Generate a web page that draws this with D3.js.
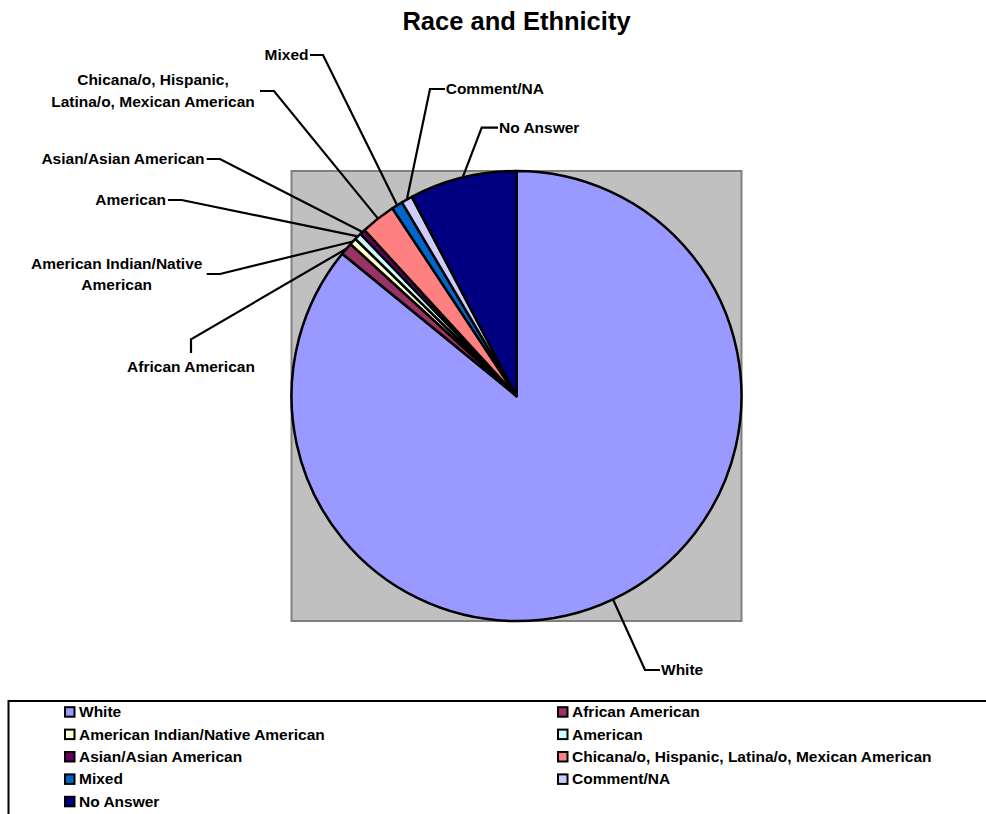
<!DOCTYPE html>
<html lang="en">
<head>
  <meta charset="UTF-8">
  <title>Race and Ethnicity</title>
  <script src="https://cdn.jsdelivr.net/npm/d3@7"></script>
</head>
<body style="margin:0; background-color:#FFFFFF;">
<script>
  // chart data
  const categories = ["White", "African American", "American Indian/Native American", "American",
    "Asian/Asian American", "Chicana/o, Hispanic, Latina/o, Mexican American", "Mixed", "Comment/NA", "No Answer"];
  const values = [85.9, 0.9, 0.5, 0.5, 0.4, 2.5, 0.8, 0.8, 7.7];
  const labelLines = [["White"], ["African American"], ["American Indian/Native", "American"], ["American"],
    ["Asian/Asian American"], ["Chicana/o, Hispanic,", "Latina/o, Mexican American"], ["Mixed"], ["Comment/NA"], ["No Answer"]];

  // styling / layout
  const colors = ["#9999FF", "#993366", "#FFFFCC", "#CCFFFF", "#660066", "#FF8080", "#0066CC", "#CCCCFF", "#000080"];
  const labelLayout = [
    {x: 661, y: 670, anchor: "start", from: [660, 670], elbow: [645, 670]},
    {x: 191, y: 366.7, anchor: "middle", from: [191, 353], elbow: [191, 339.3]},
    {x: 116.7, y: 263.3, anchor: "middle", from: [206.7, 274], elbow: [220, 274]},
    {x: 166, y: 200, anchor: "end", from: [168, 200], elbow: [181.7, 200]},
    {x: 204.5, y: 159, anchor: "end", from: [206.7, 159], elbow: [220, 159]},
    {x: 153, y: 80, anchor: "middle", from: [260, 91], elbow: [274, 91]},
    {x: 308.5, y: 55, anchor: "end", from: [310, 55], elbow: [323, 55]},
    {x: 445.7, y: 89, anchor: "start", from: [445, 89], elbow: [430, 89]},
    {x: 499, y: 127.7, anchor: "start", from: [498, 127.7], elbow: [481.7, 127.7]}
  ];

  const width = 986, height = 814;
  const cx = 516.5, cy = 396, r = 225;
  const font = "Arial, 'Liberation Sans', sans-serif";

  const svg = d3.select("body").append("svg")
    .attr("width", width)
    .attr("height", height)
    .style("display", "block")
    .style("font-family", font);

  svg.append("text")
    .attr("x", cx)
    .attr("y", 29.5)
    .attr("text-anchor", "middle")
    .style("font-size", "25.5px")
    .style("font-weight", "bold")
    .text("Race and Ethnicity");

  // plot area
  svg.append("rect")
    .attr("x", cx - r)
    .attr("y", cy - r)
    .attr("width", r * 2)
    .attr("height", r * 2)
    .attr("fill", "#C0C0C0")
    .attr("stroke", "#808080")
    .attr("stroke-width", 2);

  const data = categories.map((c, i) => ({name: c, value: values[i], i}));
  const pie = d3.pie().sort(null).value(d => d.value);
  const arcs = pie(data);
  const arc = d3.arc().innerRadius(0).outerRadius(r);
  const edgeArc = d3.arc().innerRadius(r).outerRadius(r);

  const g = svg.append("g").attr("transform", `translate(${cx},${cy})`);
  g.selectAll("path.slice")
    .data(arcs)
    .enter()
    .append("path")
    .attr("class", "slice")
    .attr("d", arc)
    .attr("fill", d => colors[d.data.i])
    .attr("stroke", "#000")
    .attr("stroke-width", 2.5)
    .attr("stroke-linejoin", "round");

  // leader lines + labels
  const line = d3.line();
  arcs.forEach((a, i) => {
    const lay = labelLayout[i];
    const e = edgeArc.centroid(a);
    svg.append("path")
      .attr("d", line([lay.from, lay.elbow, [cx + e[0], cy + e[1]]]))
      .attr("fill", "none")
      .attr("stroke", "#000")
      .attr("stroke-width", 2.2);

    const t = svg.append("text")
      .attr("text-anchor", lay.anchor)
      .style("font-size", "15.5px")
      .style("font-weight", "bold");
    labelLines[i].forEach((s, k) => {
      t.append("tspan")
        .attr("x", lay.x)
        .attr("y", lay.y + k * 21.7)
        .attr("dy", "0.35em")
        .text(s);
    });
  });

  // legend
  svg.append("rect")
    .attr("x", 8.5)
    .attr("y", 701)
    .attr("width", 1000)
    .attr("height", 200)
    .attr("fill", "#FFFFFF")
    .attr("stroke", "#000")
    .attr("stroke-width", 2);

  const colX = [65, 558];
  const rowY = d3.scaleLinear().domain([0, 1]).range([711.7, 734.1]);
  const leg = svg.selectAll("g.leg")
    .data(data)
    .enter()
    .append("g")
    .attr("class", "leg")
    .attr("transform", d => `translate(${colX[d.i % 2]},${rowY(Math.floor(d.i / 2))})`);
  leg.append("rect")
    .attr("x", 0)
    .attr("y", -4.5)
    .attr("width", 9.5)
    .attr("height", 9.5)
    .attr("fill", d => colors[d.i])
    .attr("stroke", "#000")
    .attr("stroke-width", 2);
  leg.append("text")
    .attr("x", 14)
    .attr("dy", "0.35em")
    .style("font-size", "15.5px")
    .style("font-weight", "bold")
    .text(d => d.name);
</script>
</body>
</html>
